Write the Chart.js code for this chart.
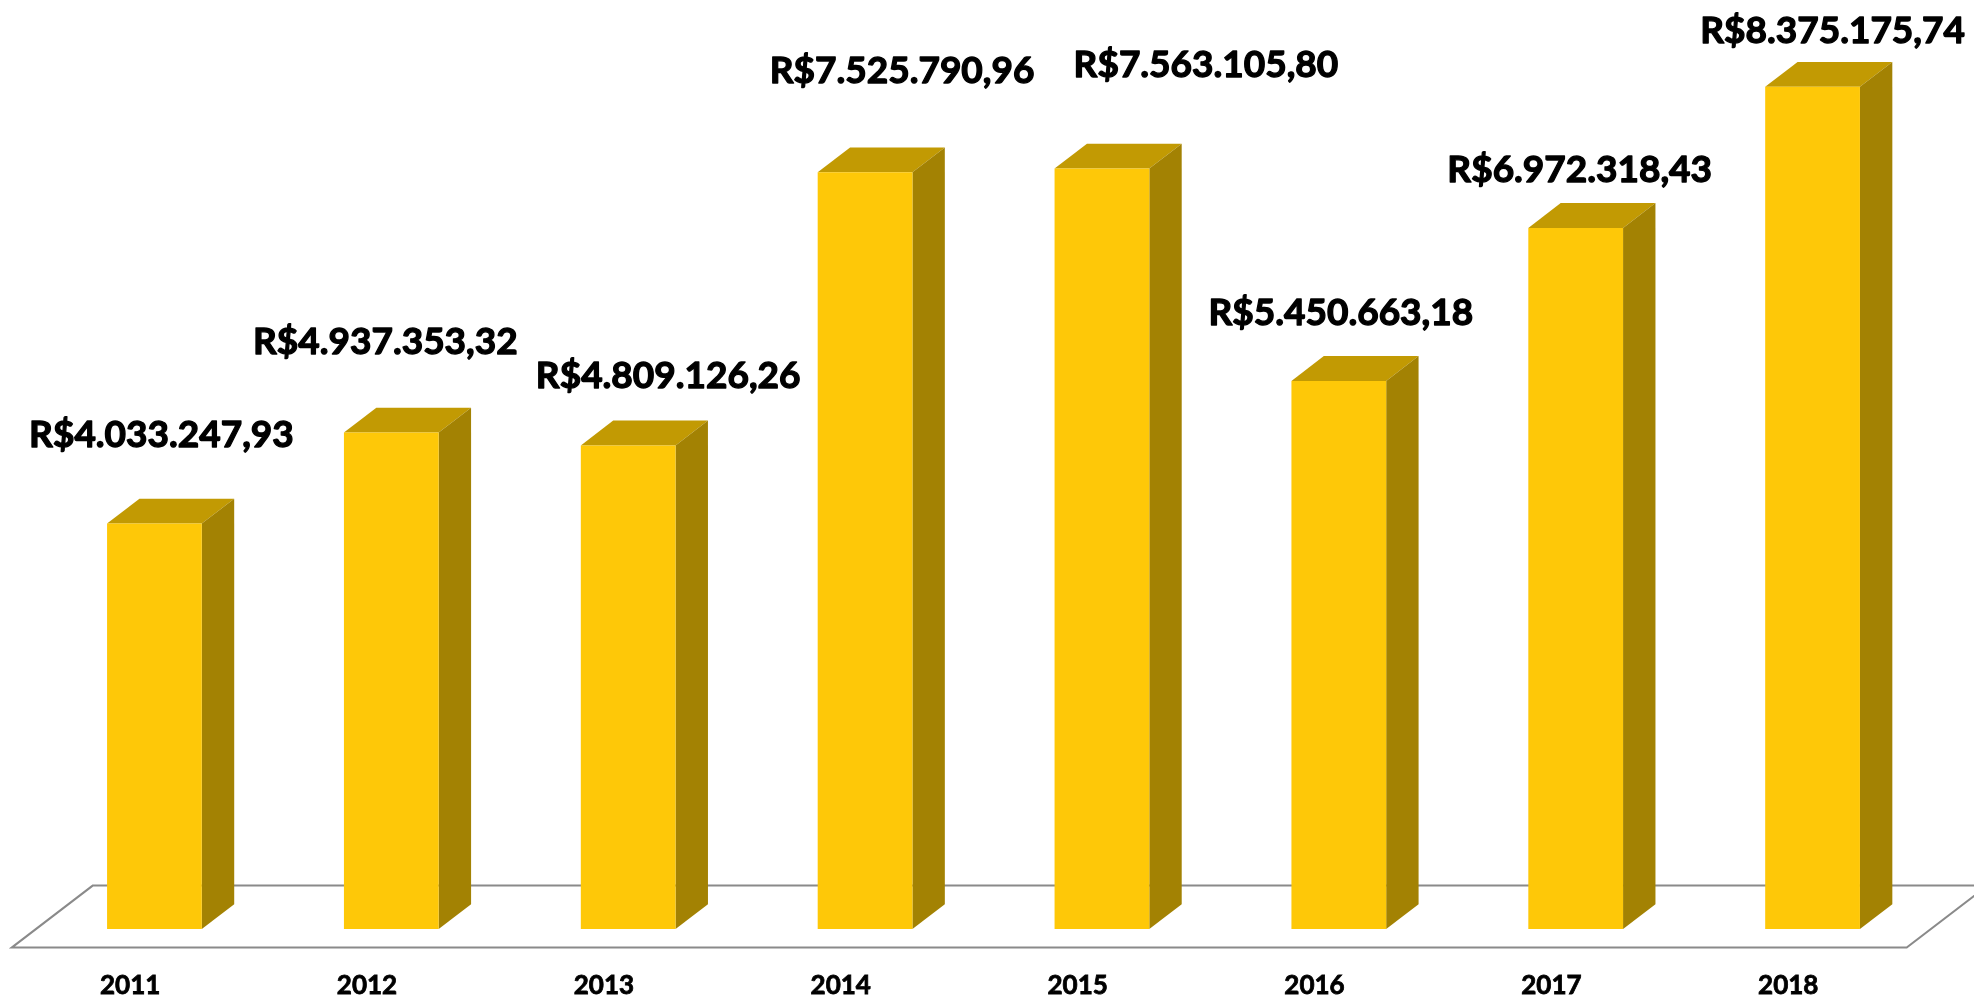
<!DOCTYPE html>
<html lang="pt-BR">
<head>
<meta charset="utf-8">
<title>Valores por ano</title>
<script src="https://cdn.jsdelivr.net/npm/chart.js@4.4.1/dist/chart.umd.min.js"></script>
<style>
  html, body { margin: 0; padding: 0; background: #fff; }
  #grafico { display: block; }
</style>
</head>
<body>
<canvas id="grafico" width="1974" height="998"></canvas>
<script>
// === Valores anuais (R$) em barras 3D ===

// Anos
const anos = ['2011', '2012', '2013', '2014', '2015', '2016', '2017', '2018'];

// Valores
const valores = [4033247.93, 4937353.32, 4809126.26, 7525790.96, 7563105.80, 5450663.18, 6972318.43, 8375175.74];

// Ajuste manual dos rótulos (px), relativo ao topo de cada barra
const rotuloDx = [7, -6, 40, 37, 104, 2, 4, 20];
const rotuloDy = [-76, -79, -57, -89, -91, -56, -46, -44];

// Cores
const corFrente = '#fec808';
const corTopo = '#c29a03';
const corLado = '#a38203';
const corPiso = '#8a8a8a';

// Profundidade do "piso" 3D (px)
const prof = { x: 81, y: -62 };

function formatarReal(v) {
  const [inteiro, dec] = v.toFixed(2).split('.');
  return 'R$' + inteiro.replace(/\B(?=(\d{3})+(?!\d))/g, '.') + ',' + dec;
}

// Desenha piso e faces laterais/superiores das barras
const efeito3D = {
  id: 'efeito3D',
  beforeDatasetsDraw(chart) {
    const { ctx, chartArea: a } = chart;
    const fx = -0.3 * prof.x, fy = -0.3 * prof.y;
    const bx = 0.7 * prof.x, by = 0.7 * prof.y;

    ctx.save();
    ctx.strokeStyle = corPiso;
    ctx.lineWidth = 2;
    ctx.beginPath();
    ctx.moveTo(a.right + bx, a.bottom + by);
    ctx.lineTo(a.left + bx, a.bottom + by);
    ctx.lineTo(a.left + fx, a.bottom + fy);
    ctx.lineTo(a.right + fx, a.bottom + fy);
    ctx.lineTo(a.right + bx, a.bottom + by);
    ctx.stroke();

    const dx = 0.4 * prof.x, dy = 0.4 * prof.y;
    chart.getDatasetMeta(0).data.forEach((bar) => {
      const esq = bar.x - bar.width / 2;
      const dir = bar.x + bar.width / 2;

      // topo
      ctx.fillStyle = corTopo;
      ctx.beginPath();
      ctx.moveTo(esq, bar.y);
      ctx.lineTo(dir, bar.y);
      ctx.lineTo(dir + dx, bar.y + dy);
      ctx.lineTo(esq + dx, bar.y + dy);
      ctx.closePath();
      ctx.fill();

      // lateral
      ctx.fillStyle = corLado;
      ctx.beginPath();
      ctx.moveTo(dir, bar.y);
      ctx.lineTo(dir + dx, bar.y + dy);
      ctx.lineTo(dir + dx, bar.base + dy);
      ctx.lineTo(dir, bar.base);
      ctx.closePath();
      ctx.fill();
    });
    ctx.restore();
  },
  afterDatasetsDraw(chart) {
    const { ctx } = chart;
    ctx.save();
    ctx.fillStyle = '#000';
    ctx.strokeStyle = '#000';
    ctx.lineWidth = 1.3;
    ctx.lineJoin = 'round';
    ctx.font = 'bold 37px Lato';
    ctx.textAlign = 'center';
    ctx.textBaseline = 'alphabetic';
    chart.getDatasetMeta(0).data.forEach((bar, i) => {
      const txt = formatarReal(valores[i]);
      const x = bar.x + rotuloDx[i], y = bar.y + rotuloDy[i];
      ctx.fillText(txt, x, y);
      ctx.strokeText(txt, x, y);
    });
    ctx.restore();
  }
};

const config = {
  type: 'bar',
  data: {
    labels: anos,
    datasets: [{
      data: valores,
      backgroundColor: corFrente,
      borderWidth: 0,
      categoryPercentage: 1,
      barPercentage: 0.4
    }]
  },
  options: {
    responsive: false,
    animation: false,
    devicePixelRatio: 1,
    layout: { padding: { left: 36, right: 43, top: 24, bottom: 0 } },
    plugins: {
      legend: { display: false },
      tooltip: { enabled: false }
    },
    scales: {
      y: {
        display: false,
        min: 0,
        max: 9000000
      },
      x: {
        grid: { display: false, drawTicks: false },
        border: { display: false },
        ticks: {
          color: '#000',
          textStrokeColor: '#000',
          textStrokeWidth: 0.8,
          font: { family: 'Lato', size: 26, weight: 'bold' },
          padding: 41,
          labelOffset: -0.3 * prof.x,
          maxRotation: 0,
          autoSkip: false
        },
        afterFit(scale) { scale.height = 69; }
      }
    }
  },
  plugins: [efeito3D]
};

new Chart(document.getElementById('grafico'), config);
</script>
</body>
</html>
